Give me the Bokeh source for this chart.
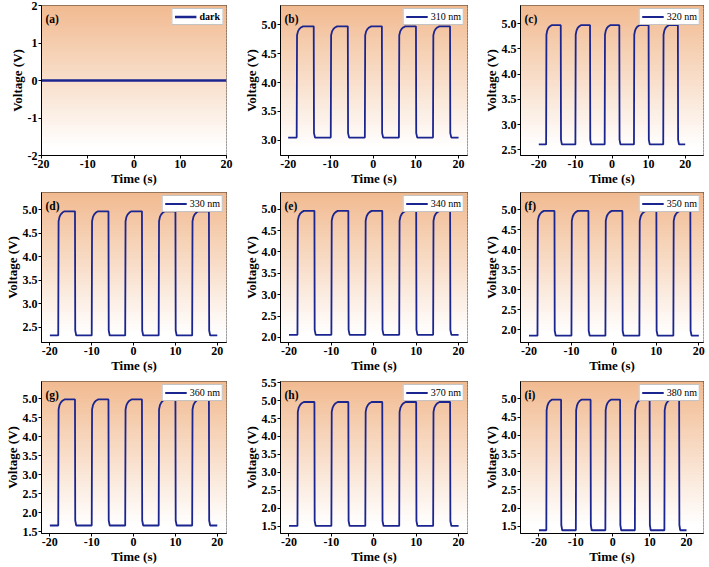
from bokeh.plotting import figure
from bokeh.layouts import gridplot
from bokeh.models import Range1d, FixedTicker, Label, PrintfTickFormatter
from bokeh.embed import file_html
from bokeh.resources import INLINE

# ---------------- data ----------------
panel_tags = ["(a)", "(b)", "(c)", "(d)", "(e)", "(f)", "(g)", "(h)", "(i)"]
legend_names = ["dark", "310 nm", "320 nm", "330 nm", "340 nm", "350 nm", "360 nm", "370 nm", "380 nm"]
low_levels = [0.0, 3.05, 2.61, 2.33, 2.06, 1.85, 1.67, 1.51, 1.39]
high_levels = [0.0, 4.97, 4.97, 4.97, 4.96, 4.97, 4.98, 4.96, 4.98]
on_times = [-18, -10, -2, 6, 14]
off_times = [-14, -6, 2, 10, 18]
t_first, t_last = -20, 20
# shape of the switching edges (time after switching, fraction of the swing)
rise_dt = [0.0, 0.08, 0.3, 0.6, 1.0, 1.5]
rise_frac = [0.0, 0.92, 0.955, 0.975, 0.99, 1.0]
fall_dt = [0.0, 0.06, 0.3]
fall_frac = [1.0, 0.04, 0.0]

x_lo = [-20, -21.8, -25, -22, -22, -22, -22, -22, -25]
x_hi = [20, 22.1, 25, 22.2, 22.1, 21.1, 22.2, 22.1, 24.6]
y_lo = [-2, 2.74, 2.39, 2.18, 1.88, 1.68, 1.46, 1.30, 1.30]
y_hi = [2, 5.33, 5.36, 5.37, 5.39, 5.43, 5.45, 5.53, 5.48]
x_ticks = [-20, -10, 0, 10, 20]
y_ticks = [
    [-2, -1, 0, 1, 2],
    [3.0, 3.5, 4.0, 4.5, 5.0],
    [2.5, 3.0, 3.5, 4.0, 4.5, 5.0],
    [2.5, 3.0, 3.5, 4.0, 4.5, 5.0],
    [2.0, 2.5, 3.0, 3.5, 4.0, 4.5, 5.0],
    [2.0, 2.5, 3.0, 3.5, 4.0, 4.5, 5.0],
    [1.5, 2.0, 2.5, 3.0, 3.5, 4.0, 4.5, 5.0],
    [1.5, 2.0, 2.5, 3.0, 3.5, 4.0, 4.5, 5.0, 5.5],
    [1.5, 2.0, 2.5, 3.0, 3.5, 4.0, 4.5, 5.0, 5.5],
]

# ---------------- layout / style ----------------
FONT = "Liberation Serif"
LINE_COLOR = "#1b2590"
TOP_RGB = (241, 186, 144)
col_w = [236, 238, 234]
col_mbl = [41, 44, 46]
col_mbr = [10, 7, 5]
row_h = [188, 187, 191]
row_mbt = [5, 4, 6]
row_mbb = [32, 32, 32]


def trace(i):
    lo, hi = low_levels[i], high_levels[i]
    t, v = [t_first], [lo]
    if hi != lo:
        for on, off in zip(on_times, off_times):
            for dt, f in zip(rise_dt, rise_frac):
                t.append(on + dt)
                v.append(lo + f * (hi - lo))
            for dt, f in zip(fall_dt, fall_frac):
                t.append(off + dt)
                v.append(lo + f * (hi - lo))
    t.append(t_last)
    v.append(lo)
    return t, v


def gradient(p, i, n=50):
    span = y_hi[i] - y_lo[i]
    bottoms, tops, colors = [], [], []
    for k in range(n):
        b = y_hi[i] - (k + 1) * span / n
        tp = y_hi[i] - k * span / n
        d = min(1.0, (k + 0.5) / n / 0.95)
        r, g, bl = [int(round(c + (255 - c) * d)) for c in TOP_RGB]
        bottoms.append(b)
        tops.append(tp)
        colors.append("#%02x%02x%02x" % (r, g, bl))
    p.quad(left=x_lo[i], right=x_hi[i], bottom=bottoms, top=tops,
           fill_color=colors, line_color=colors, line_width=1)


rows = []
for r in range(3):
    row = []
    for c in range(3):
        i = r * 3 + c
        p = figure(width=col_w[c], height=row_h[r], output_backend="svg",
                   toolbar_location=None,
                   x_range=Range1d(x_lo[i], x_hi[i]), y_range=Range1d(y_lo[i], y_hi[i]),
                   min_border_left=col_mbl[c], min_border_right=col_mbr[c],
                   min_border_top=row_mbt[r], min_border_bottom=row_mbb[r])
        p.background_fill_color = "white"
        p.border_fill_color = "white"
        p.outline_line_color = "black"
        p.outline_line_width = 1
        p.grid.visible = False
        gradient(p, i)
        t, v = trace(i)
        p.line(t, v, line_color=LINE_COLOR, line_width=1.8 if i else 2.5,
               legend_label=legend_names[i])

        for ax in (p.xaxis[0], p.yaxis[0]):
            ax.axis_line_color = "black"
            ax.major_tick_line_color = "black"
            ax.major_tick_in = 0
            ax.major_tick_out = 3
            ax.minor_tick_line_color = None
            ax.major_label_standoff = 1
            ax.axis_label_standoff = 0
            ax.major_label_text_font = FONT
            ax.major_label_text_font_style = "bold"
            ax.major_label_text_font_size = "12px"
            ax.major_label_text_color = "black"
            ax.axis_label_text_font = FONT
            ax.axis_label_text_font_style = "bold"
            ax.axis_label_text_font_size = "13px"
            ax.axis_label_text_color = "black"
        p.xaxis.axis_label = "Time (s)"
        p.yaxis.axis_label = "Voltage (V)"
        p.xaxis.ticker = FixedTicker(ticks=x_ticks)
        p.xaxis.formatter = PrintfTickFormatter(format="%d")
        p.yaxis.ticker = FixedTicker(ticks=y_ticks[i])
        p.yaxis.formatter = PrintfTickFormatter(format="%d" if i == 0 else "%.1f")

        lg = p.legend[0]
        lg.location = "top_right"
        lg.margin = 3
        lg.padding = 2
        lg.spacing = 0
        lg.glyph_width = 22
        lg.glyph_height = 9
        lg.label_height = 9
        lg.label_standoff = 3
        lg.label_text_font = FONT
        lg.label_text_font_size = "10px"
        lg.label_text_font_style = "bold" if i == 0 else "normal"
        lg.label_text_color = "black"
        lg.border_line_color = "#8a8a8a"
        lg.border_line_width = 1
        lg.background_fill_color = "white"
        lg.background_fill_alpha = 1

        p.add_layout(Label(x=x_lo[i], y=y_hi[i], x_offset=4, y_offset=-7,
                           text=panel_tags[i], text_baseline="top",
                           text_font=FONT, text_font_style="bold",
                           text_font_size="11.5px", text_color="black"))
        row.append(p)
    rows.append(row)

grid = gridplot(rows, toolbar_location=None)
open("out.html", "w").write(file_html(grid, INLINE))
